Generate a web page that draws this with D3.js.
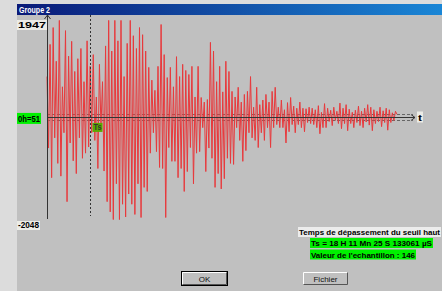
<!DOCTYPE html>
<html>
<head>
<meta charset="utf-8">
<script src="https://cdn.jsdelivr.net/npm/d3@7"></script>
<style>
  body { margin: 0; background: #c0c0c0; }
  svg { display: block; }
  text { font-family: "Liberation Sans", Arial, sans-serif; }
</style>
</head>
<body>
<script>
const width = 442;
const height = 291;

// échantillons (valeurs brutes)
const samplesA = [800, -600, 1430, -1180, 1760, -400, 1100, -900, 1900, -1150, 600, -300, 1700, -1650, 1200, -500, 1490, -850, 900, -1100, 1150, -400, 1350, -800, 700, -700, 1500, -580, 1000, -300, 1230, -450, 400, -1000, 1040, -200, 700, -1050, 1400, -1650, 1900, -1850, 1300, -2000, 1900, -1300, 1500, -2000, 1900, -1700, 800, -1950, 1450, -1500, 1900, -1700, 1600, -1900, 1350, -1300];
const samplesB = [1760, -1960, 1620, -1370, 1300, -1450, 980, -700, 730, -300, 530, -670, 1000, -980, 1820, -1000, 1230, -1960, 780, -590, 980, -860, 600, -860, 1190, -1180, 800, -1000, 1040, -1450, 920, -1060, 840, -590, 1000, -1300, 400, -700, 1000, -670, 390, -200, 300, -1060, 350, -600, 1470, -800, 1300, -1370, 700, -1100, 1000, -1400, 500, -1200, 1100, -800, 900, -900];
const samplesC = [510, -920, 400, -200, 590, -450, 300, -860, 450, -650, 510, -300, 800, -400, 200, -450, 590, -590, 250, -300, 340, -450, 450, -200, 300, -590, 510, -200, 590, -140, 200, -200, 340, -200, 150, -500, 290, -280, 390, -140, 220, -300, 180, -140, 300, -200, 180, -280, 170, -100, 200, -120, 180, -140, 150, -200];
const samplesD = [230, -320, 100, -200, 270, -200, 180, -80, 140, -160, 200, -60, 120, -120, 280, -220, 180, -120, 250, -260, 160, -120, 100, -200, 140, -100, 220, -160, 120, -200, 180, -90, 250, -150, 200, -260, 150, -120, 120, -80, 200, -180, 130, -100, 180, -250, 150, -100, 90, -60, 120, 60];
const samples = [...samplesA, ...samplesB, ...samplesC, ...samplesD];

const yMax = 1947;
const yMin = -2048;
const offsetLabel = "0h=51";
const seuilHaut = 60;
const seuilBas = -60;
const tsIndex = 28; // échantillon où le seuil haut est dépassé

const titre = "Groupe 2";
const infoLines = [
  "Temps de dépassement du seuil haut",
  "Ts = 18 H 11 Mn 25 S 133061 µS",
  "Valeur de l'echantillon : 146",
];
const buttons = ["OK", "Fichier"];

const x = d3.scaleLinear().domain([0, samples.length - 1]).range([47, 397]);
const y = d3.scaleLinear().domain([yMin, yMax]).range([222, 18]);

const svg = d3.select("body").append("svg")
  .attr("width", width)
  .attr("height", height);

// fond de la fenêtre
svg.append("rect").attr("width", width).attr("height", height).attr("fill", "#dcdcdc");
svg.append("rect").attr("x", 17).attr("y", 4).attr("width", width - 17).attr("height", height - 4).attr("fill", "#c0c0c0");

// barre de titre
const grad = svg.append("defs").append("linearGradient").attr("id", "tb");
grad.append("stop").attr("offset", "0%").attr("stop-color", "#0a1a78");
grad.append("stop").attr("offset", "100%").attr("stop-color", "#1a86d6");
svg.append("rect").attr("x", 17).attr("y", 4).attr("width", width - 17).attr("height", 11).attr("fill", "url(#tb)");
svg.append("text").attr("x", 19).attr("y", 12.5)
  .attr("fill", "#fff").attr("font-weight", "bold").attr("font-size", 8.5)
  .attr("textLength", 31).attr("lengthAdjust", "spacingAndGlyphs")
  .text(titre);

// seuils
svg.append("g")
  .attr("stroke", "#666").attr("stroke-dasharray", "3,2").attr("stroke-width", 1)
  .selectAll("line").data([seuilHaut, seuilBas]).join("line")
  .attr("x1", 47).attr("x2", 413)
  .attr("y1", (d) => Math.round(y(d)) + 0.5).attr("y2", (d) => Math.round(y(d)) + 0.5);

// signal
svg.append("path")
  .datum(samples)
  .attr("fill", "none")
  .attr("stroke", "#e8393c")
  .attr("stroke-width", 1)
  .attr("d", d3.line().x((d, i) => x(i)).y((d) => y(d)));

// axes
const y0 = Math.round(y(0)) + 0.5;
const axis = svg.append("g").attr("stroke", "#333").attr("fill", "none").attr("stroke-width", 1);
axis.append("line").attr("x1", 47.5).attr("x2", 47.5).attr("y1", 15).attr("y2", 219);
axis.append("path").attr("d", "M44.5,19 L47.5,15 L50.5,19");
axis.append("line").attr("x1", 47).attr("x2", 415).attr("y1", y0).attr("y2", y0);
axis.append("path").attr("d", `M411,${y0 - 3} L415,${y0} L411,${y0 + 3}`);

// ligne pointillée au temps Ts
const xTs = Math.round(x(tsIndex)) + 0.5;
svg.append("line")
  .attr("x1", xTs).attr("x2", xTs)
  .attr("y1", 15).attr("y2", 216)
  .attr("stroke", "#333").attr("stroke-dasharray", "2,2");

// étiquettes
function label(txt, lx, ly, w, h, bg, opts = {}) {
  const g = svg.append("g");
  g.append("rect").attr("x", lx).attr("y", ly).attr("width", w).attr("height", h).attr("fill", bg);
  g.append("text").attr("x", lx + 1).attr("y", ly + h - 2)
    .attr("font-size", opts.size || 9).attr("font-weight", "bold").attr("fill", opts.color || "#000")
    .attr("textLength", w - 2).attr("lengthAdjust", "spacingAndGlyphs")
    .text(txt);
}
label(String(yMax), 17, y(yMax) + 2, 30, 10, "#ecece6");
label(offsetLabel, 17, y(0) - 4.5, 24, 11, "#00f000");
label(String(yMin), 17, y(yMin) - 1, 23, 9, "#ecece6");
label("t", 417, y0 - 6, 6, 11, "#ecece6");
label("Ts", xTs + 2, y(0) + 5.5, 10, 9, "#5aa800", { color: "#333" });

label(infoLines[0], 298, 227, 143, 10, "#ececec", { size: 8 });
label(infoLines[1], 310, 238, 123, 10, "#00f000", { size: 8 });
label(infoLines[2], 310, 249.5, 106, 10, "#00f000", { size: 8 });

// boutons
const bx = [182, 303];
buttons.forEach((b, i) => {
  const g = svg.append("g").attr("transform", `translate(${bx[i]},272)`);
  const w = 45, h = 13;
  if (i === 0) g.append("rect").attr("x", -0.5).attr("y", -0.5).attr("width", w + 1).attr("height", h + 1).attr("fill", "none").attr("stroke", "#000");
  g.append("path").attr("d", `M0.5,${h - 0.5} L0.5,0.5 L${w - 0.5},0.5`).attr("stroke", "#fff").attr("fill", "none");
  g.append("path").attr("d", `M0.5,${h - 0.5} L${w - 0.5},${h - 0.5} L${w - 0.5},0.5`).attr("stroke", "#555").attr("fill", "none");
  g.append("text").attr("x", w / 2).attr("y", 9.5).attr("text-anchor", "middle")
    .attr("font-size", 8).attr("fill", "#111").text(b);
});
</script>
</body>
</html>
